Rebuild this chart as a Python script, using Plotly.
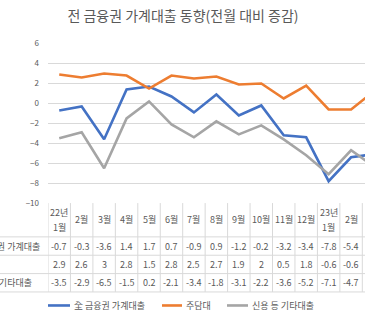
import plotly.graph_objects as go

# ---- data (조원, 전월 대비 증감) ----
months = ["22년<br>1월", "2월", "3월", "4월", "5월", "6월", "7월", "8월", "9월",
          "10월", "11월", "12월", "23년<br>1월", "2월", "3월"]
series_names = ["全 금융권 가계대출", "주담대", "신용 등 기타대출"]
row_labels = ["전 금융권 가계대출", "주담대", "신용 등 기타대출"]
total = [-0.7, -0.3, -3.6, 1.4, 1.7, 0.7, -0.9, 0.9, -1.2, -0.2, -3.2, -3.4, -7.8, -5.4, -5.1]
mortgage = [2.9, 2.6, 3, 2.8, 1.5, 2.8, 2.5, 2.7, 1.9, 2, 0.5, 1.8, -0.6, -0.6, 1.2]
other = [-3.5, -2.9, -6.5, -1.5, 0.2, -2.1, -3.4, -1.8, -3.1, -2.2, -3.6, -5.2, -7.1, -4.7, -6.3]
y_ticks = [6, 4, 2, 0, -2, -4, -6, -8, -10]

colors = ["#4472C4", "#ED7D31", "#A5A5A5"]
W, H = 365, 324
FONT = "Noto Sans CJK KR"
TXT = "#595959"
GRID = "#D9D9D9"


def py(p):
    return 1 - p / H


def px(p):
    return p / W


xs = list(range(len(months)))
fig = go.Figure()
for name, vals, c in zip(series_names, [total, mortgage, other], colors):
    fig.add_trace(go.Scatter(x=xs, y=vals, mode="lines", name=name, showlegend=False,
                             line=dict(color=c, width=2.6)))

fig.update_layout(
    width=W, height=H, autosize=False,
    margin=dict(l=0, r=0, t=0, b=0),
    paper_bgcolor="white", plot_bgcolor="white",
    font=dict(family=FONT, color=TXT, size=9),
    title=dict(text="전 금융권 가계대출 동향(전월 대비 증감)", x=px(183), xanchor="center",
               y=py(16), yanchor="middle", font=dict(size=14, color=TXT, family=FONT)),
    xaxis=dict(domain=[px(48), 1], range=[-0.5, 13.62], showgrid=False, zeroline=False,
               showticklabels=False, showline=False, fixedrange=True),
    yaxis=dict(domain=[py(204), py(39)], range=[-10, 6], tickvals=y_ticks,
               showgrid=True, gridcolor=GRID, gridwidth=1, zeroline=False,
               showline=False, ticks="", ticklabelstandoff=8,
               tickfont=dict(size=8, color=TXT)),
)

shapes = []
# vertical table lines at column boundaries
for i in range(len(months)):
    shapes.append(dict(type="line", xref="x", yref="paper", x0=i - 0.5, x1=i - 0.5,
                       y0=py(204), y1=py(296), line=dict(color=GRID, width=1)))
# horizontal table lines
for yy in [239, 258, 277, 296]:
    shapes.append(dict(type="line", xref="paper", yref="paper", x0=0, x1=1,
                       y0=py(yy), y1=py(yy), line=dict(color=GRID, width=1)))

ann = []
# header row
for i, m in enumerate(months):
    parts = m.split("<br>")
    if len(parts) == 1:
        ys = [221.5]
    else:
        ys = [214, 229]
    for t, yy in zip(parts, ys):
        ann.append(dict(xref="x", yref="paper", x=i, y=py(yy), text=t, showarrow=False,
                        xanchor="center", yanchor="middle", font=dict(size=9, color=TXT)))
row_y = [248.5, 267.5, 286.5]
for vals, yy in zip([total, mortgage, other], row_y):
    for i, v in enumerate(vals):
        ann.append(dict(xref="x", yref="paper", x=i, y=py(yy), text=f"{v:g}", showarrow=False,
                        xanchor="center", yanchor="middle", font=dict(size=9, color=TXT)))
for lab, yy in zip(row_labels, row_y):
    ann.append(dict(xref="paper", yref="paper", x=px(-32), y=py(yy), text=lab, showarrow=False,
                    xanchor="left", yanchor="middle", font=dict(size=9, color=TXT)))

# legend (keys + labels)
key_x = [(48, 70), (162, 182), (227, 248)]
for (x0, x1), name, c in zip(key_x, series_names, colors):
    shapes.append(dict(type="line", xref="paper", yref="paper", x0=px(x0), x1=px(x1),
                       y0=py(310), y1=py(310), line=dict(color=c, width=2.6)))
    ann.append(dict(xref="paper", yref="paper", x=px(x1 + 2), y=py(310), text=name,
                    showarrow=False, xanchor="left", yanchor="middle",
                    font=dict(size=9, color=TXT)))

fig.update_layout(shapes=shapes, annotations=ann)

fig.write_html("out.html")
